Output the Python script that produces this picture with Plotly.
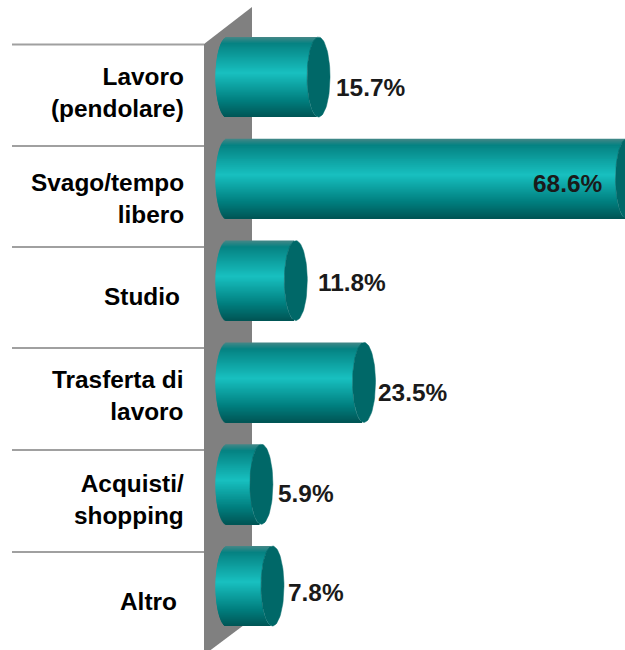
import numpy as np
import plotly.graph_objects as go

categories = ["Lavoro<br>(pendolare)", "Svago/tempo<br>libero", "Studio", "Trasferta di<br>lavoro", "Acquisti/<br>shopping", "Altro"]
values = [15.7, 68.6, 11.8, 23.5, 5.9, 7.8]
value_labels = ["15.7%", "68.6%", "11.8%", "23.5%", "5.9%", "7.8%"]

# pixel layout
W, H = 625, 650
X0, PX_PER_UNIT = 227, 5.83
Y0, PX_PER_CAT = 77, 101.8
CAP_RX = 11.5 / PX_PER_UNIT
BAR_HALF = 40 / PX_PER_CAT
cat_right = [186, 186, 182, 186, 186, 179]
cat_dy = [15, 20, 16, 13, 15, 15]
label_left = [334, 531, 316, 376, 276, 286]
label_dy = [10, 5, 2, 10, 9, 6]
line_px = [44.5, 146, 247, 348, 450, 552]
wall_px = [204, 252, 252, 204]
wall_py = [44, 7, 619, 655]


def to_x(px):
    return (np.asarray(px) - X0) / PX_PER_UNIT


def to_y(py):
    return (np.asarray(py) - Y0) / PX_PER_CAT


def band_colour(t):
    # vertical shading of the cylinder, t runs 0 (top) to 1 (bottom)
    stops = [0, 0.08, 0.45, 0.8, 1]
    r = np.interp(t, stops, [70, 5, 24, 0, 0])
    g = np.interp(t, stops, [135, 130, 192, 125, 85])
    b = np.interp(t, stops, [135, 130, 192, 125, 85])
    return f"rgb({r:.0f},{g:.0f},{b:.0f})"


fig = go.Figure()

# each bar is a stack of thin bands, every band overlaps the next so no seams show
n_bands = 80
band = 2 * BAR_HALF / n_bands
y_pos = np.arange(len(values))
vals = np.array(values)
for j in range(n_bands):
    t = (j + 0.5) / n_bands
    v = 2 * t - 1
    bulge = CAP_RX * np.sqrt(1 - v**2)
    fig.add_trace(
        go.Bar(
            y=y_pos,
            x=vals,
            base=-bulge,
            orientation="h",
            width=band * (2 if j < n_bands - 1 else 1),
            offset=-BAR_HALF + band * j,
            marker=dict(color=band_colour(t), line_width=0),
            hoverinfo="skip",
            showlegend=False,
        )
    )

# dark end caps
theta = np.linspace(0, 2 * np.pi, 80)
for y, val in zip(y_pos, values):
    fig.add_trace(
        go.Scatter(
            x=val + CAP_RX * np.cos(theta),
            y=y + BAR_HALF * np.sin(theta),
            mode="lines",
            fill="toself",
            fillcolor="#006868",
            line=dict(color="#006868", width=0.5),
            hoverinfo="skip",
            showlegend=False,
        )
    )

# back wall, has to sit under the bars so it goes in as a shape
wall_path = "M " + " L ".join(f"{to_x(px):.4f},{to_y(py):.4f}" for px, py in zip(wall_px, wall_py)) + " Z"
shapes = [
    dict(
        type="path",
        xref="x",
        yref="y",
        path=wall_path,
        fillcolor="#808080",
        line=dict(width=0),
        layer="below",
    )
]
for py in line_px:
    shapes.append(
        dict(
            type="line",
            xref="x",
            yref="y",
            x0=float(to_x(12)),
            x1=float(to_x(204)),
            y0=float(to_y(py)),
            y1=float(to_y(py)),
            line=dict(color="#a0a0a0", width=2),
            layer="below",
        )
    )

annotations = []
for i, label in enumerate(categories):
    annotations.append(
        dict(
            x=float(to_x(cat_right[i])),
            y=i + cat_dy[i] / PX_PER_CAT,
            text=f"<b>{label}</b>",
            xanchor="right",
            yanchor="middle",
            align="right",
            showarrow=False,
            font=dict(family="Liberation Sans", size=24.4, color="#000000"),
        )
    )
    annotations.append(
        dict(
            x=float(to_x(label_left[i])),
            y=i + label_dy[i] / PX_PER_CAT,
            text=f"<b>{value_labels[i]}</b>",
            xanchor="left",
            yanchor="middle",
            showarrow=False,
            font=dict(family="Liberation Sans", size=24.4, color="#1a1a1a"),
        )
    )

fig.update_layout(
    width=W,
    height=H,
    margin=dict(l=0, r=0, t=0, b=0),
    paper_bgcolor="white",
    plot_bgcolor="white",
    barmode="overlay",
    shapes=shapes,
    annotations=annotations,
    xaxis=dict(range=[float(to_x(0)), float(to_x(W))], visible=False, fixedrange=True),
    yaxis=dict(range=[float(to_y(H)), float(to_y(0))], visible=False, fixedrange=True),
)

fig.write_html(
    "out.html",
    config={"displayModeBar": False},
    post_script="document.body.style.margin=0;document.body.style.overflow='hidden';",
)
